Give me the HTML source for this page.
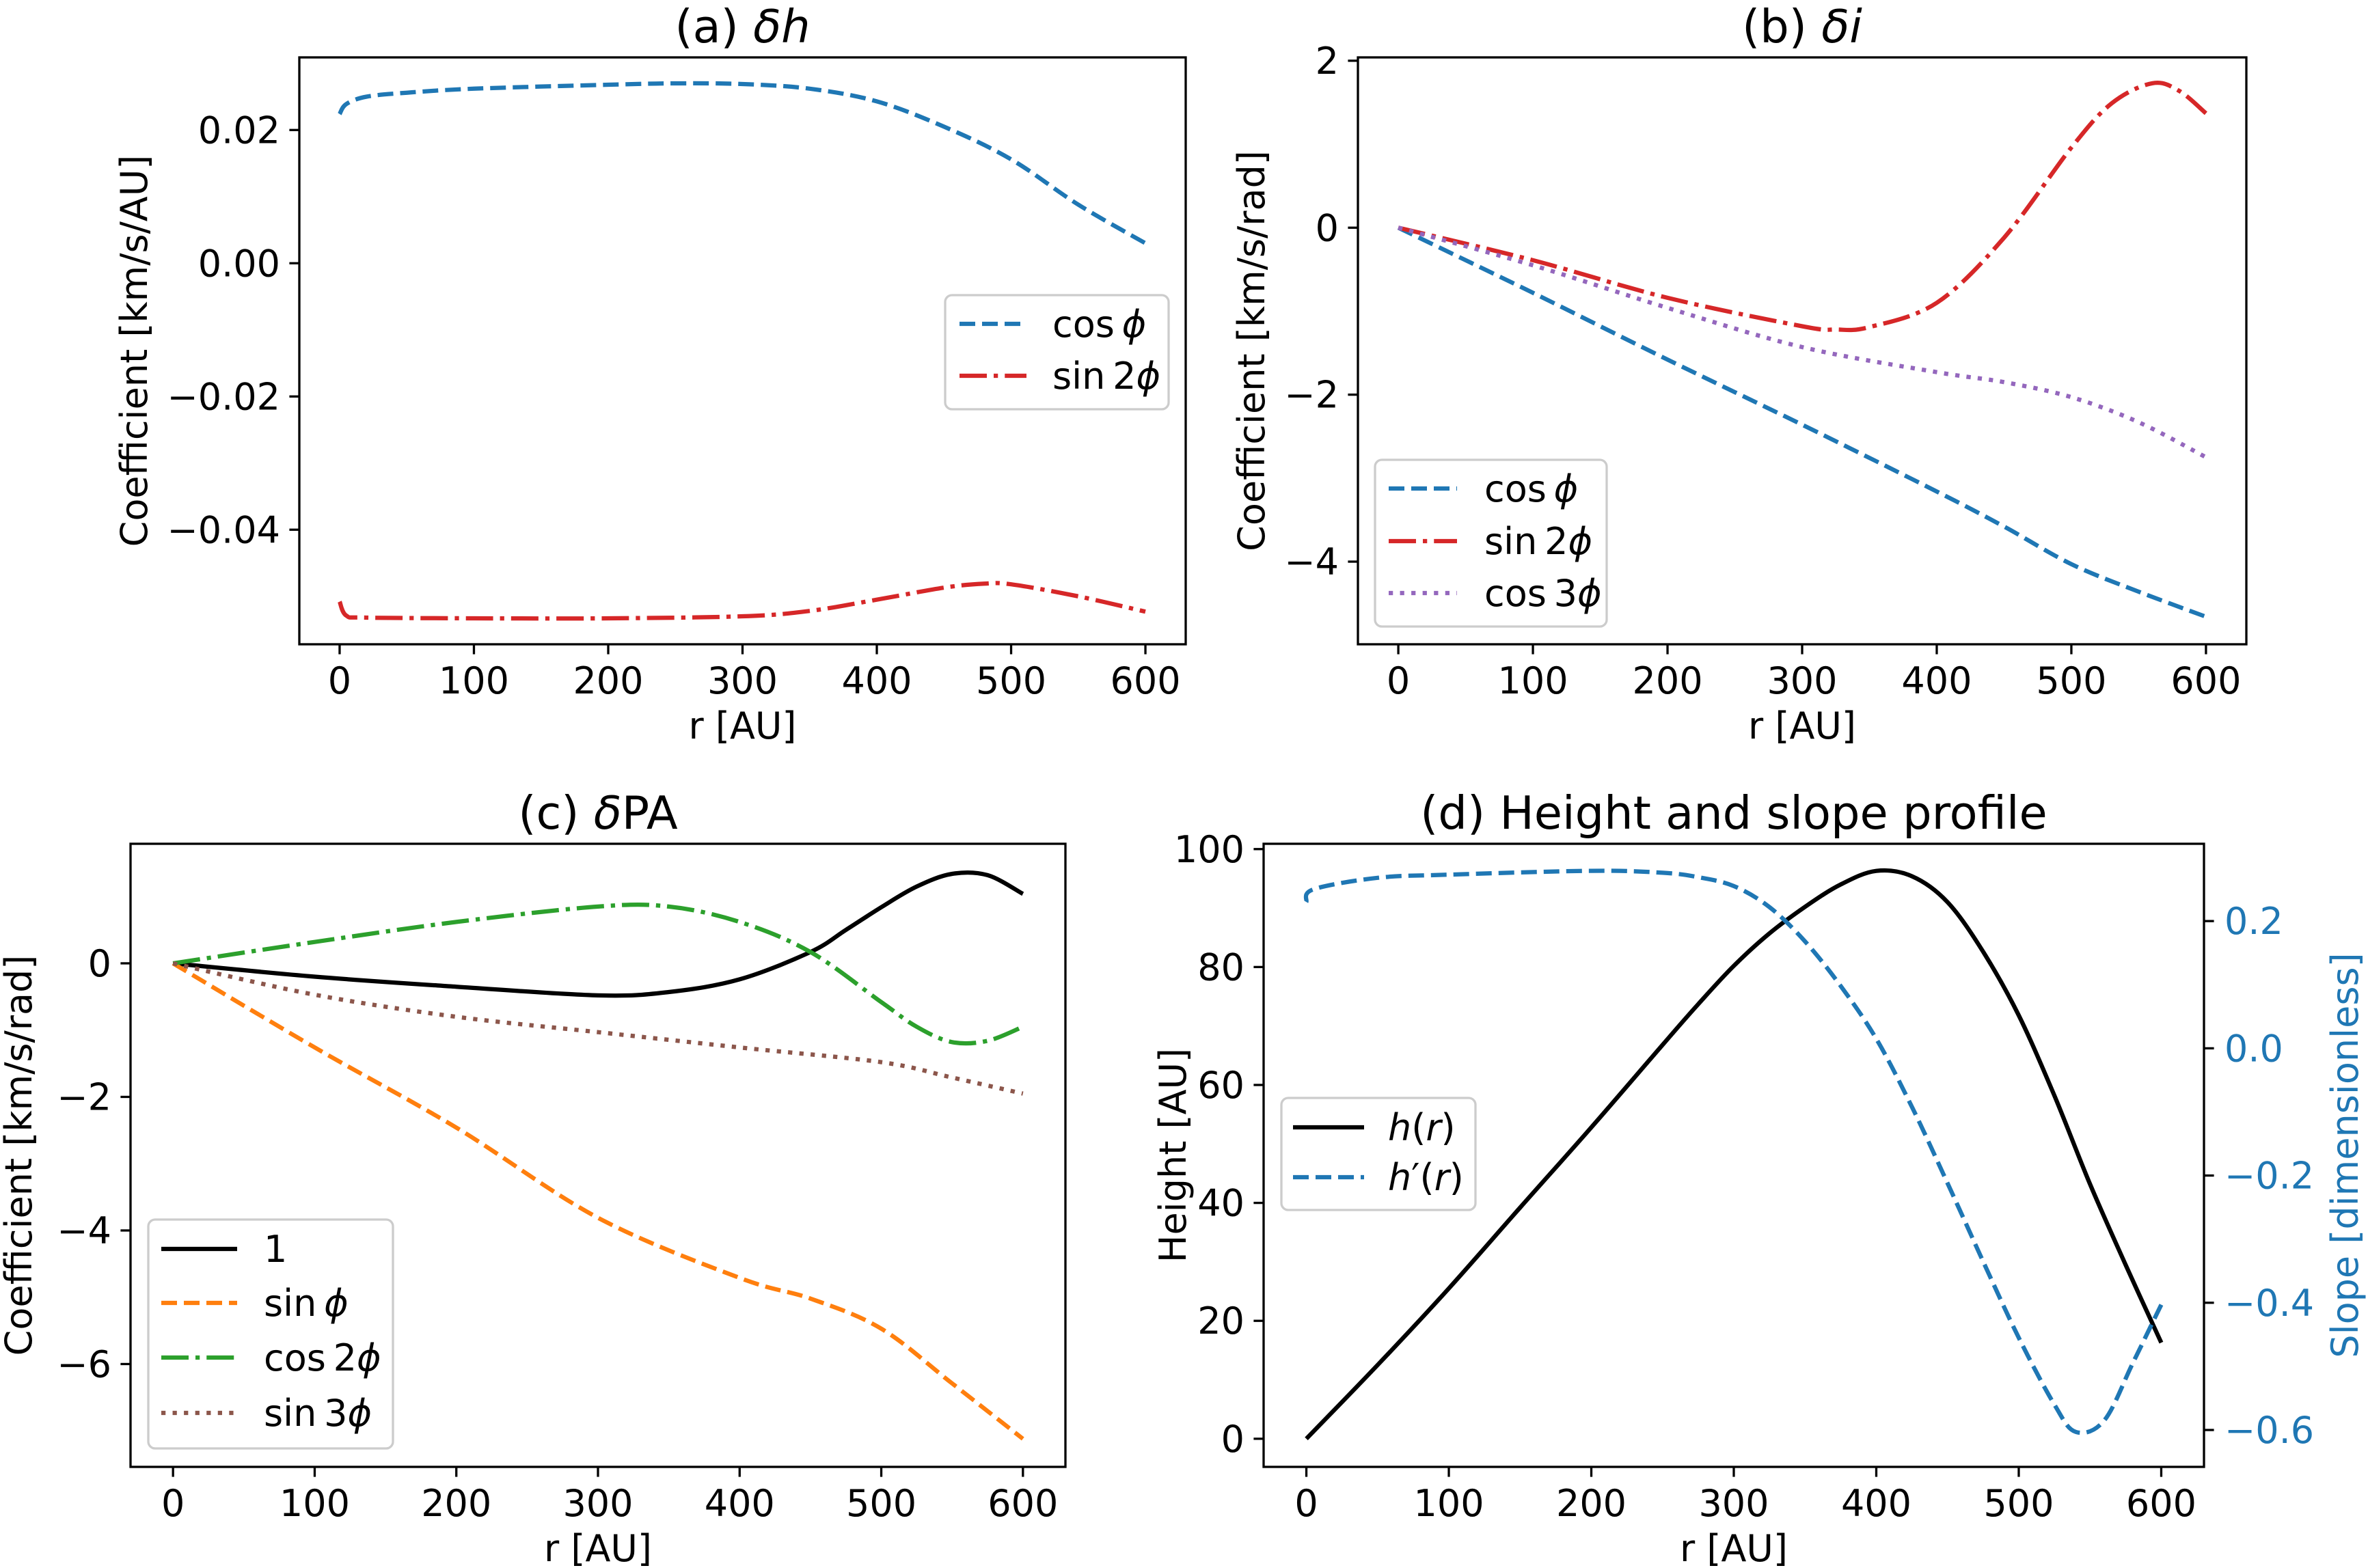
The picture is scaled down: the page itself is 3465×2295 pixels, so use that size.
<!DOCTYPE html>
<html><head><meta charset="utf-8"><style>
html,body{margin:0;padding:0;background:#fff}
svg{display:block;font-family:"DejaVu Sans","Liberation Sans",sans-serif}
</style></head><body>
<svg id="fig" width="3465" height="2295" viewBox="0 0 3465 2295" xmlns="http://www.w3.org/2000/svg"></svg>
<script>
// ---- Panel (a) data ----
const aR_cos = [0,5,20,50,100,200,250,300,350,400,450,500,550,600];
const aV_cos = [0.0224,0.0239,0.0250,0.0256,0.0262,0.0268,0.0270,0.0269,0.0262,0.0243,0.0205,0.0156,0.0088,0.0030];
const aR_sin = [0,5,20,100,200,300,350,400,450,480,500,550,600];
const aV_sin = [-0.0508,-0.0529,-0.0532,-0.0533,-0.0533,-0.0530,-0.0522,-0.0505,-0.0487,-0.0481,-0.0482,-0.0500,-0.0523];
const aYTicks = [0.02,0.00,-0.02,-0.04];
const aYLabels = ["0.02","0.00","\u22120.02","\u22120.04"];
// ---- Panel (b) data ----
const bR = [0,100,200,300,400,450,500,550,600];
const bV_cos = [0,-0.78,-1.58,-2.36,-3.16,-3.58,-4.03,-4.36,-4.66];
const bR_sin = [0,100,200,300,325,350,400,450,500,530,560,580,600];
const bV_sin = [0,-0.39,-0.84,-1.18,-1.22,-1.19,-0.90,-0.12,0.96,1.49,1.73,1.64,1.37];
const bR_c3 = [0,100,200,300,400,450,500,550,600];
const bV_c3 = [0,-0.45,-0.96,-1.43,-1.73,-1.85,-2.03,-2.33,-2.75];
const bYTicks = [2,0,-2,-4];
const bYLabels = ["2","0","\u22122","\u22124"];
// ---- Panel (c) data ----
const cR_one = [0,100,200,300,350,400,450,475,500,525,550,575,600];
const cV_one = [0,-0.20,-0.35,-0.48,-0.43,-0.24,0.17,0.50,0.84,1.15,1.34,1.32,1.04];
const cR_sin = [0,100,200,300,400,450,500,550,600];
const cV_sin = [0,-1.26,-2.46,-3.81,-4.71,-5.02,-5.47,-6.29,-7.12];
const cR_cos2 = [0,100,200,300,350,400,450,500,525,550,575,600];
const cV_cos2 = [0,0.32,0.62,0.85,0.85,0.62,0.17,-0.58,-0.95,-1.18,-1.16,-0.95];
const cR_sin3 = [0,100,200,300,400,500,550,600];
const cV_sin3 = [0,-0.47,-0.80,-1.03,-1.26,-1.48,-1.71,-1.95];
const cYTicks = [0,-2,-4,-6];
const cYLabels = ["0","\u22122","\u22124","\u22126"];
// ---- Panel (d) data ----
const dR_h = [0,50,100,150,200,250,275,300,325,350,375,400,425,450,475,500,525,550,575,600];
const dV_h = [0,12.5,25.5,39.2,52.8,66.8,73.7,80.2,85.7,90.2,94.0,96.3,95.4,91.0,82.6,71.8,58.2,43.2,29.5,16.3];
const dR_s = [0,5,50,100,200,250,275,300,325,350,375,400,425,450,475,500,525,540,560,580,600];
const dV_s = [0.23,0.25,0.268,0.273,0.279,0.276,0.269,0.255,0.222,0.168,0.098,0.015,-0.092,-0.212,-0.335,-0.455,-0.56,-0.603,-0.585,-0.495,-0.403];
const dYTicks = [0,20,40,60,80,100];
const dYLabels = ["0","20","40","60","80","100"];
const dY2Ticks = [0.2,0.0,-0.2,-0.4,-0.6];
const dY2Labels = ["0.2","0.0","\u22120.2","\u22120.4","\u22120.6"];
const xTicks = [0,100,200,300,400,500,600];
const xLabels = ["0","100","200","300","400","500","600"];

const NS="http://www.w3.org/2000/svg";
const svg=document.getElementById('fig');
function mk(tag,attrs,parent){const e=document.createElementNS(NS,tag);for(const k in attrs)e.setAttribute(k,attrs[k]);(parent||svg).appendChild(e);return e;}
const LW=6.25, FS=54;
const STY={
 dashed:"23,10", dashdot:"40,10,6.25,10", dotted:"6.25,10.3", solid:"none"
};
function smoothPath(pts){
  let d="M"+pts[0][0].toFixed(1)+","+pts[0][1].toFixed(1);
  for(let i=0;i<pts.length-1;i++){
    const p0=pts[Math.max(0,i-1)],p1=pts[i],p2=pts[i+1],p3=pts[Math.min(pts.length-1,i+2)];
    const c1=[p1[0]+(p2[0]-p0[0])/6,p1[1]+(p2[1]-p0[1])/6];
    const c2=[p2[0]-(p3[0]-p1[0])/6,p2[1]-(p3[1]-p1[1])/6];
    d+=" C"+c1[0].toFixed(1)+","+c1[1].toFixed(1)+" "+c2[0].toFixed(1)+","+c2[1].toFixed(1)+" "+p2[0].toFixed(1)+","+p2[1].toFixed(1);
  }
  return d;
}
function panel(p){
  const g=mk('g',{});
  
  
  const sx=v=>p.L+(v-(-30))/(660)*(p.R-p.L);
  const sy=v=>p.B-(v-p.ymin)/(p.ymax-p.ymin)*(p.B-p.T);
  const cid='clip-'+p.name;
  const cp=mk('clipPath',{id:cid},g); mk('rect',{x:p.L,y:p.T,width:p.R-p.L,height:p.B-p.T},cp);
  const lg=mk('g',{'clip-path':'url(#'+cid+')'},g);
  p.series.forEach(s=>{
    const ysc=s.right?(v=>p.B-(v-p.y2min)/(p.y2max-p.y2min)*(p.B-p.T)):sy;
    const pts=s.r.map((r,i)=>[sx(r),ysc(s.v[i])]);
    const path=mk('path',{d:smoothPath(pts),fill:'none',stroke:s.color,'stroke-width':LW,'stroke-dasharray':STY[s.style]},lg);
    
    
  });
  const fr=mk('rect',{x:p.L,y:p.T,width:p.R-p.L,height:p.B-p.T,fill:'none',stroke:'#000','stroke-width':3.3},g);
  
  
  xTicks.forEach((t,i)=>{
    const x=sx(t);
    mk('line',{x1:x,y1:p.B,x2:x,y2:p.B+14.6,stroke:'#000','stroke-width':3.3},g);
    const tx=mk('text',{x:x,y:p.B+72,'font-size':FS,'text-anchor':'middle'},g);
    tx.textContent=xLabels[i];
    
    
  });
  p.yt.forEach((t,i)=>{
    const y=sy(t);
    mk('line',{x1:p.L,y1:y,x2:p.L-14.6,y2:y,stroke:'#000','stroke-width':3.3},g);
    const tx=mk('text',{x:p.L-28,y:y+19,'font-size':FS,'text-anchor':'end'},g);
    tx.textContent=p.yl[i];
    
    
  });
  if(p.y2t){
    const sy2=v=>p.B-(v-p.y2min)/(p.y2max-p.y2min)*(p.B-p.T);
    p.y2t.forEach((t,i)=>{
      const y=sy2(t);
      mk('line',{x1:p.R,y1:y,x2:p.R+14.6,y2:y,stroke:'#000','stroke-width':3.3},g);
      const tx=mk('text',{x:p.R+30,y:y+19,'font-size':FS,'text-anchor':'start',fill:'#1f77b4'},g);
      tx.textContent=p.y2l[i];
      
      
    });
    const yl2=mk('text',{x:0,y:0,'font-size':FS,'text-anchor':'middle',fill:'#1f77b4',transform:'translate('+(p.y2lx)+','+((p.T+p.B)/2)+') rotate(-90)'},g);
    yl2.textContent=p.y2label;
    
    
  }
  const xl=mk('text',{x:(p.L+p.R)/2,y:p.B+138,'font-size':FS,'text-anchor':'middle'},g);
  xl.textContent='r [AU]';
  
  
  const yl=mk('text',{x:0,y:0,'font-size':FS,'text-anchor':'middle',transform:'translate('+(p.ylx)+','+((p.T+p.B)/2)+') rotate(-90)'},g);
  yl.textContent=p.ylabel;
  
  
  const ti=mk('text',{x:(p.L+p.R)/2,y:p.T-22,'font-size':67,'text-anchor':'middle'},g);
  ti.innerHTML=p.title;
  
  
  const L=p.leg;
  const lgd=mk('g',{},g);
  
  
  mk('rect',{x:L.x,y:L.y,width:L.w,height:L.h,rx:10,fill:'#fff','fill-opacity':0.8,stroke:'#cccccc','stroke-width':3.3},lgd);
  p.series.forEach((s,i)=>{
    const y=L.rows[i];
    const ln=mk('line',{x1:L.hx1,y1:y,x2:L.hx2,y2:y,stroke:s.color,'stroke-width':LW,'stroke-dasharray':STY[s.style]},lgd);
    
    
    const t=mk('text',{x:L.tx,y:y+19,'font-size':FS},lgd);
    t.innerHTML=s.label;
    
    
  });
}
const PHI='<tspan font-style="italic">\u03d5</tspan>';
const BL='#1f77b4';
panel({name:'panel-a',L:438,R:1735,T:84,B:943,ymin:-0.0572,ymax:0.0309,yt:aYTicks,yl:aYLabels,ylx:215,
 ylabel:'Coefficient [km/s/AU]',title:'(a) <tspan font-style="italic">\u03b4h</tspan>',
 series:[{id:'cos-phi',r:aR_cos,v:aV_cos,color:BL,style:'dashed',label:'cos\u2009'+PHI},
         {id:'sin-2phi',r:aR_sin,v:aV_sin,color:'#d62728',style:'dashdot',label:'sin\u20092'+PHI}],
 leg:{x:1383,y:432,w:327,h:167,rows:[474,550],hx1:1404,hx2:1502,tx:1540}});
panel({name:'panel-b',L:1987,R:3287,T:84,B:943,ymin:-4.99,ymax:2.04,yt:bYTicks,yl:bYLabels,ylx:1850,
 ylabel:'Coefficient [km/s/rad]',title:'(b) <tspan font-style="italic">\u03b4i</tspan>',
 series:[{id:'cos-phi',r:bR,v:bV_cos,color:BL,style:'dashed',label:'cos\u2009'+PHI},
         {id:'sin-2phi',r:bR_sin,v:bV_sin,color:'#d62728',style:'dashdot',label:'sin\u20092'+PHI},
         {id:'cos-3phi',r:bR_c3,v:bV_c3,color:'#9467bd',style:'dotted',label:'cos\u20093'+PHI}],
 leg:{x:2012,y:673,w:339,h:244,rows:[715,792,868],hx1:2032,hx2:2132,tx:2172}});
panel({name:'panel-c',L:191,R:1559,T:1235,B:2147,ymin:-7.54,ymax:1.79,yt:cYTicks,yl:cYLabels,ylx:46,
 ylabel:'Coefficient [km/s/rad]',title:'(c) <tspan font-style="italic">\u03b4</tspan>PA',
 series:[{id:'one',r:cR_one,v:cV_one,color:'#000',style:'solid',label:'1'},
         {id:'sin-phi',r:cR_sin,v:cV_sin,color:'#ff7f0e',style:'dashed',label:'sin\u2009'+PHI},
         {id:'cos-2phi',r:cR_cos2,v:cV_cos2,color:'#2ca02c',style:'dashdot',label:'cos\u20092'+PHI},
         {id:'sin-3phi',r:cR_sin3,v:cV_sin3,color:'#8c564b',style:'dotted',label:'sin\u20093'+PHI}],
 leg:{x:217,y:1785,w:358,h:335,rows:[1828,1907,1987,2068],hx1:236,hx2:347,tx:386}});
panel({name:'panel-d',L:1849,R:3225,T:1235,B:2147,ymin:-4.77,ymax:100.9,yt:dYTicks,yl:dYLabels,ylx:1735,
 ylabel:'Height [AU]',title:'(d) Height and slope profile',
 y2min:-0.658,y2max:0.3215,y2t:dY2Ticks,y2l:dY2Labels,y2lx:3450,y2label:'Slope [dimensionless]',
 series:[{id:'h-r',r:dR_h,v:dV_h,color:'#000',style:'solid',label:'<tspan font-style="italic">h</tspan>(<tspan font-style="italic">r</tspan>)'},
         {id:'h-prime-r',r:dR_s,v:dV_s,color:BL,style:'dashed',right:true,label:'<tspan font-style="italic">h</tspan>\u2032(<tspan font-style="italic">r</tspan>)'}],
 leg:{x:1875,y:1607,w:284,h:164,rows:[1650,1723],hx1:1892,hx2:1996,tx:2031}});
</script>
</body></html>
